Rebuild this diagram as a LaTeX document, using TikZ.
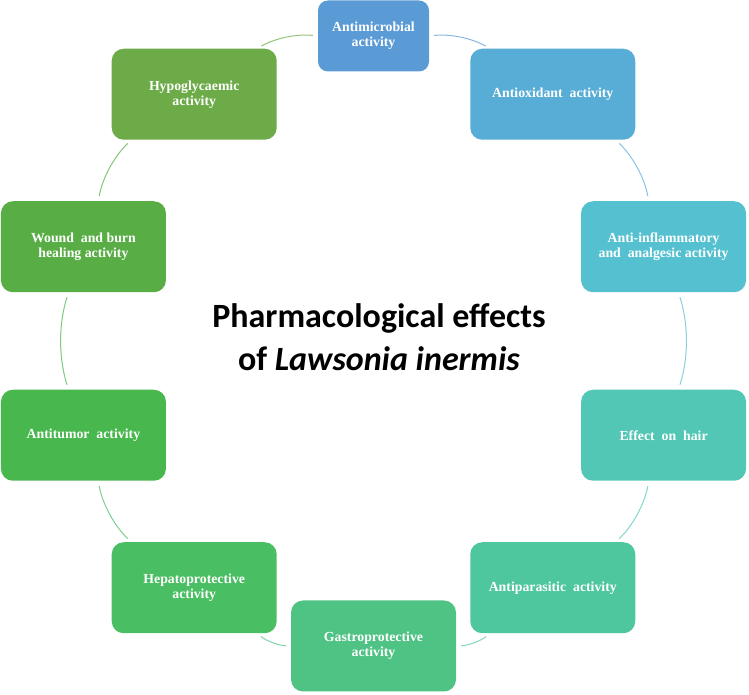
\documentclass[tikz,border=0pt]{standalone}
\usepackage{fontspec}
\setmainfont{Liberation Serif}
\newfontfamily\titlefont{Carlito}
\usetikzlibrary{calc}
\definecolor{c1}{HTML}{5B9BD5}
\definecolor{c2}{HTML}{57ADD5}
\definecolor{c3}{HTML}{55C1D0}
\definecolor{c4}{HTML}{52C7B6}
\definecolor{c5}{HTML}{4FC79E}
\definecolor{c6}{HTML}{4EC384}
\definecolor{c7}{HTML}{4ABE62}
\definecolor{c8}{HTML}{48B74D}
\definecolor{c9}{HTML}{58AE45}
\definecolor{c10}{HTML}{6CAB47}
\tikzset{
  box/.style={rounded corners=12pt, minimum width=165pt, minimum height=91pt,
    text=white, align=center, inner sep=2pt,
    font=\bfseries\fontsize{13.8}{15}\selectfont},
  smallbox/.style={box, minimum width=111pt, minimum height=71pt, rounded corners=10pt},
  link/.style={line width=1pt, shorten >=5pt, shorten <=5pt, bend left=18, looseness=0.87},
}
\begin{document}
\begin{tikzpicture}[x=1pt,y=1pt]
\useasboundingbox (0,0) rectangle (749,695);
\coordinate (C) at (373.5,354);
\node[smallbox, fill=c1] (n1) at ([shift={(90:305)}]C) {Antimicrobial\\activity};
\node[box, fill=c2] (n2) at ([shift={(54:305)}]C) {Antioxidant\ \ activity};
\node[box, fill=c3] (n3) at ([shift={(18:305)}]C) {Anti-inflammatory\\and\ \ analgesic activity};
\node[box, fill=c4] (n4) at ([shift={(-18:305)}]C) {Effect\ \ on\ \ hair};
\node[box, fill=c5] (n5) at ([shift={(-54:305)}]C) {Antiparasitic\ \ activity};
\node[box, fill=c6] (n6) at ([shift={(-90:305)}]C) {Gastroprotective\\activity};
\node[box, fill=c7] (n7) at ([shift={(-126:305)}]C) {Hepatoprotective\\activity};
\node[box, fill=c8] (n8) at ([shift={(-162:305)}]C) {Antitumor\ \ activity};
\node[box, fill=c9] (n9) at ([shift={(162:305)}]C) {Wound\ \ and burn\\healing activity};
\node[box, fill=c10] (n10) at ([shift={(126:305)}]C) {Hypoglycaemic\\activity};
\node[font=\titlefont\bfseries\fontsize{34}{43}\selectfont, align=center] (title) at (379,358)
  {Pharmacological effects\\of \textit{Lawsonia inermis}};
\draw[link, draw=c1!72!white] (n1) to (n2);
\draw[link, draw=c2!72!white] (n2) to (n3);
\draw[link, draw=c3!72!white] (n3) to (n4);
\draw[link, draw=c4!72!white] (n4) to (n5);
\draw[link, draw=c5!72!white] (n5) to (n6);
\draw[link, draw=c6!72!white] (n6) to (n7);
\draw[link, draw=c7!72!white] (n7) to (n8);
\draw[link, draw=c8!72!white] (n8) to (n9);
\draw[link, draw=c9!72!white] (n9) to (n10);
\draw[link, draw=c10!72!white] (n10) to (n1);
\end{tikzpicture}
\end{document}
